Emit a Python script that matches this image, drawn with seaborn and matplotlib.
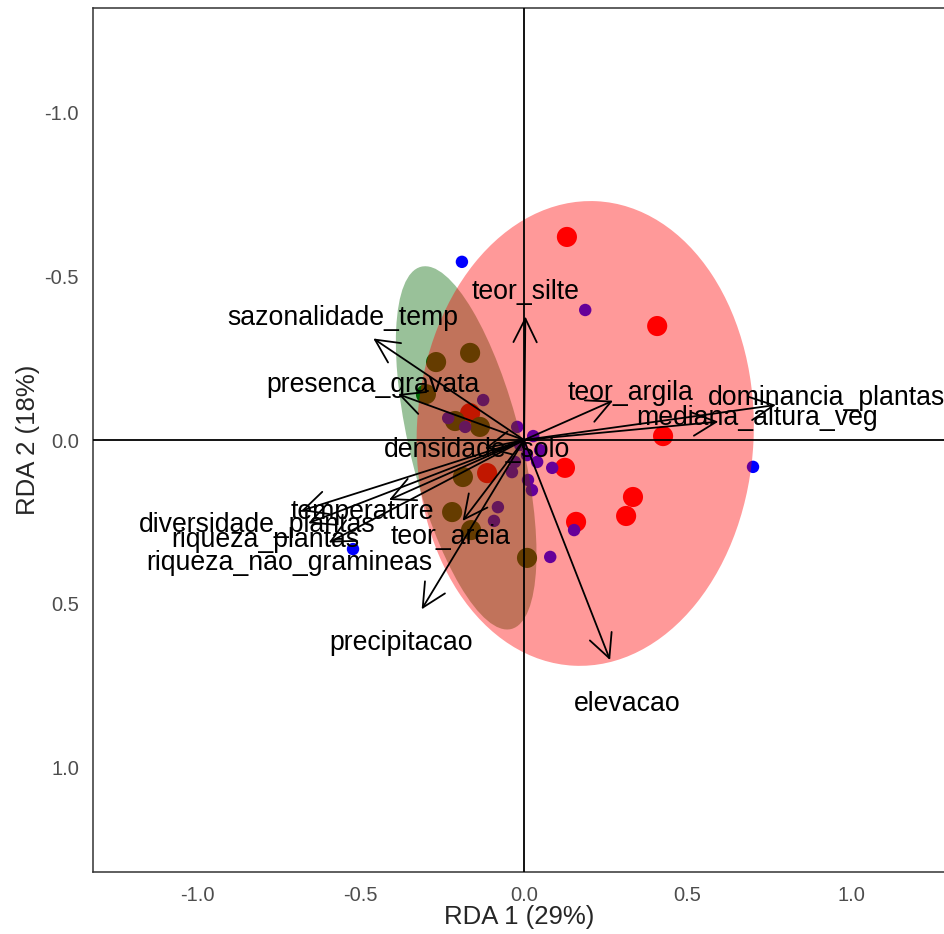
import pandas as pd
import matplotlib.pyplot as plt
import seaborn as sns
from matplotlib.patches import Ellipse

# ----------------------------------------
# Scores dos sitios (RDA1, RDA2) por grupo
# ----------------------------------------
grupo_a_x = [0.131, 0.407, 0.425, 0.125, 0.333, 0.312, 0.159, -0.165, -0.113]
grupo_a_y = [-0.620, -0.348, -0.012, 0.085, 0.174, 0.232, 0.250, -0.082, 0.101]

grupo_b_x = [-0.269, -0.165, -0.300, -0.211, -0.135, -0.187, -0.220, -0.162, 0.009]
grupo_b_y = [-0.238, -0.266, -0.140, -0.058, -0.040, 0.113, 0.220, 0.275, 0.360]

grupo_c_x = [-0.190, 0.187, 0.700, -0.523, -0.125, -0.232, -0.180, -0.021, 0.028,
             -0.012, 0.009, 0.040, -0.037, 0.012, 0.024, 0.086, -0.080, -0.092,
             0.080, 0.153, 0.049, -0.028]
grupo_c_y = [-0.544, -0.397, 0.082, 0.333, -0.122, -0.067, -0.040, -0.040, -0.012,
             0.015, 0.046, 0.067, 0.098, 0.122, 0.153, 0.085, 0.205, 0.247,
             0.357, 0.275, 0.031, 0.067]

# ----------------------------------------
# Variaveis explicativas (pontas das setas)
# ----------------------------------------
variaveis = ['teor_silte', 'sazonalidade_temp', 'presenca_gravata', 'teor_argila',
             'dominancia_plantas', 'mediana_altura_veg', 'densidade_solo', 'elevacao',
             'precipitacao', 'teor_areia', 'temperature', 'diversidade_plantas',
             'riqueza_plantas', 'riqueza_nao_gramineas']
seta_x = [0.004, -0.461, -0.385, 0.272, 0.770, 0.594, -0.120, 0.263,
          -0.313, -0.188, -0.413, -0.681, -0.660, -0.597]
seta_y = [-0.377, -0.310, -0.140, -0.120, -0.107, -0.056, 0.025, 0.672,
          0.517, 0.247, 0.183, 0.216, 0.254, 0.313]
fator_rotulo = 1.2

# Elipses por grupo: centro, eixo maior, eixo menor, angulo
elipse_a = dict(centro=(0.187, -0.020), maior=1.42, menor=1.03, angulo=92.8)
elipse_b = dict(centro=(-0.177, 0.024), maior=1.14, menor=0.34, angulo=76.0)

cores = {'A': '#FF0000', 'B': '#006400', 'C': '#0000FF'}
tamanhos = {'A': 210, 'B': 210, 'C': 80}

df = pd.DataFrame({
    'RDA1': grupo_a_x + grupo_b_x + grupo_c_x,
    'RDA2': grupo_a_y + grupo_b_y + grupo_c_y,
    'grupo': ['A'] * len(grupo_a_x) + ['B'] * len(grupo_b_x) + ['C'] * len(grupo_c_x),
})

sns.set_style("white")
plt.rcParams['font.family'] = ['Liberation Sans', 'DejaVu Sans']
plt.rcParams['axes.unicode_minus'] = False

fig = plt.figure(figsize=(9.45, 9.34), dpi=100)
ax = fig.add_axes([0.0984, 0.0664, 0.9016, 0.925])

sns.scatterplot(data=df, x='RDA1', y='RDA2', hue='grupo', size='grupo',
                palette=cores, sizes=tamanhos, linewidth=0, legend=False,
                ax=ax, zorder=1)

# elipses (verde primeiro, vermelha por cima)
for el, g in [(elipse_b, 'B'), (elipse_a, 'A')]:
    ax.add_patch(Ellipse(el['centro'], el['maior'], el['menor'], angle=el['angulo'],
                         facecolor=cores[g], alpha=0.4, edgecolor='none', zorder=2))

ax.axhline(0, color='black', lw=1.3, zorder=3)
ax.axvline(0, color='black', lw=1.3, zorder=3)

for nome, sx, sy in zip(variaveis, seta_x, seta_y):
    ax.annotate('', xy=(sx, sy), xytext=(0, 0),
                arrowprops=dict(arrowstyle='->,head_length=0.85,head_width=0.42',
                                color='black', lw=1.3, shrinkA=0, shrinkB=0,
                                mutation_scale=20),
                zorder=4)
    ax.text(sx * fator_rotulo, sy * fator_rotulo, nome, ha='center', va='center',
            fontsize=19.2, color='black', zorder=5)

ax.set_xlim(-1.318, 1.287)
ax.set_ylim(1.319, -1.319)
ticks = [-1.0, -0.5, 0.0, 0.5, 1.0]
ax.set_xticks(ticks)
ax.set_yticks(ticks)
ax.set_xticklabels([f'{t:.1f}' for t in ticks])
ax.set_yticklabels([f'{t:.1f}' for t in ticks])
ax.tick_params(axis='both', length=5, width=1, color='#333333',
               labelsize=14.5, labelcolor='#4D4D4D', pad=5)

ax.set_xlabel('RDA 1 (29%)', fontsize=18.5)
ax.set_ylabel('RDA 2 (18%)', fontsize=18.5)
ax.xaxis.set_label_coords(0.5, -0.038)
ax.yaxis.set_label_coords(-0.062, 0.5)

for lado in ['top', 'left', 'bottom']:
    ax.spines[lado].set_color('#333333')
    ax.spines[lado].set_linewidth(1.1)
ax.spines['right'].set_visible(False)

plt.savefig('out.png', dpi=100)
